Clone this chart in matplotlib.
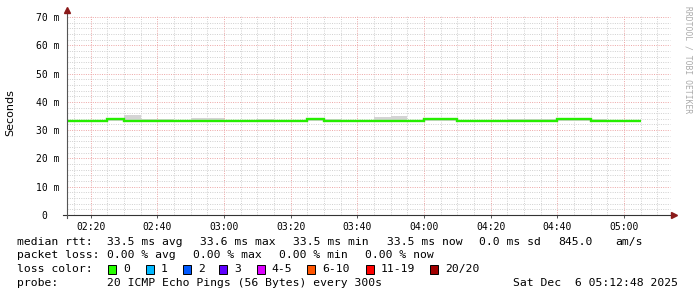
import matplotlib
matplotlib.use("Agg")
import matplotlib.pyplot as plt
from matplotlib.patches import Rectangle

W, H = 697, 297

# time axis in minutes after midnight, 5-minute steps
step_edges = [130 + 5 * i for i in range(36)]
median_ms = [33.4, 33.4, 33.4, 33.8, 33.4, 33.4, 33.4, 33.4, 33.4, 33.4,
             33.4, 33.4, 33.4, 33.4, 33.4, 33.8, 33.4, 33.4, 33.4, 33.4,
             33.4, 33.4, 33.8, 33.8, 33.4, 33.4, 33.4, 33.4, 33.4, 33.4,
             33.8, 33.8, 33.4, 33.4, 33.4]
smoke_hi_ms = [33.5, 33.5, 33.5, 34.2, 35.3, 34.1, 34.1, 33.5, 34.4, 34.4,
               33.5, 33.5, 34.1, 33.5, 33.5, 34.1, 34.1, 33.5, 33.5, 34.5,
               35.0, 33.5, 34.1, 34.1, 33.5, 33.5, 33.5, 34.1, 34.1, 34.1,
               34.1, 34.1, 34.1, 33.5, 33.5]
smoke_lo_ms = [33.1] * 35

t_start, t_end = 132.8, 312.8
major_ticks = [140, 160, 180, 200, 220, 240, 260, 280, 300]
major_labels = ["02:20", "02:40", "03:00", "03:20", "03:40", "04:00", "04:20", "04:40", "05:00"]
y_ticks = [0, 10, 20, 30, 40, 50, 60, 70]
y_labels = ["0  ", "10 m", "20 m", "30 m", "40 m", "50 m", "60 m", "70 m"]

loss_labels = ["0", "1", "2", "3", "4-5", "6-10", "11-19", "20/20"]
loss_colors = ["#26ff00", "#00b8ff", "#0059ff", "#5e00ff", "#dd00ff", "#ff5500", "#ff0000", "#a10000"]

mono = "DejaVu Sans Mono"

def fx(px):
    return px / W

def fy(py):
    return 1 - py / H

fig = plt.figure(figsize=(W / 100, H / 100), dpi=100)
left, right, top, bottom = 66.7, 666.7, 15, 215
ax = fig.add_axes([fx(left), fy(bottom), (right - left) / W, (bottom - top) / H])

# smoke and median
ax.stairs(smoke_hi_ms, step_edges, baseline=smoke_lo_ms, fill=True, color="#d4d4d4", lw=0, zorder=2)
ax.stairs(median_ms, step_edges, baseline=None, color="#26ee00", lw=1.7, zorder=3)

ax.set_xlim(t_start, t_end)
ax.set_ylim(0, 70.7)

# grids, extended slightly past the right edge like rrdtool
grid_dash = (0, (1, 1.3))
gx = [0, 1.005]
for m in range(135, 313, 5):
    if m not in major_ticks:
        ax.axvline(m, color="#d2d2d2", lw=0.72, ls=grid_dash, zorder=1)
for v in range(2, 71, 2):
    if v % 10:
        ax.axhline(v, *gx, color="#d2d2d2", lw=0.72, ls=grid_dash, zorder=1, clip_on=False)
for m in major_ticks:
    ax.axvline(m, color="#eeaaaa", lw=0.72, ls=grid_dash, zorder=1)
for v in y_ticks[1:]:
    ax.axhline(v, *gx, color="#eeaaaa", lw=0.72, ls=grid_dash, zorder=1, clip_on=False)

for s in ax.spines.values():
    s.set_visible(False)

ax.set_xticks(major_ticks)
ax.set_xticklabels(major_labels, fontsize=7, family=mono)
ax.set_yticks(y_ticks)
ax.set_yticklabels(y_labels, fontsize=7, family=mono)
ax.tick_params(axis="x", length=2, width=0.7, color="#555555", pad=3)
ax.tick_params(axis="y", length=0, pad=5)

# axis lines with arrows
ax.plot([-0.007, 1.01], [0, 0], color="#333333", lw=0.8, transform=ax.transAxes, clip_on=False, zorder=4)
ax.plot([0, 0], [-0.015, 1.02], color="#555555", lw=0.8, transform=ax.transAxes, clip_on=False, zorder=4)
ax.plot([1.012], [0], marker=">", ms=4, color="#8b1a1a", transform=ax.transAxes, clip_on=False, zorder=5)
ax.plot([0], [1.025], marker="^", ms=4, color="#8b1a1a", transform=ax.transAxes, clip_on=False, zorder=5)

fig.text(fx(10), fy(113), "Seconds", rotation=90, ha="center", va="center", fontsize=8, family="DejaVu Sans")
fig.text(fx(688), fy(6), "RRDTOOL / TOBI OETIKER", rotation=270, ha="center", va="top",
         fontsize=5.8, family=mono, color="#aaaaaa")

# legend
fs = 8.2
row = [241.7, 255.2, 269.0, 282.7]

def txt(x, y, s):
    fig.text(fx(x), fy(y), s, ha="left", va="center", fontsize=fs, family=mono)

txt(16.7, row[0], "median rtt:")
txt(107.3, row[0], "33.5 ms avg")
txt(200, row[0], "33.6 ms max")
txt(293.3, row[0], "33.5 ms min")
txt(386.7, row[0], "33.5 ms now")
txt(479, row[0], "0.0 ms sd")
txt(558, row[0], "845.0")
txt(615, row[0], "am/s")

txt(16.7, row[1], "packet loss:")
txt(107.3, row[1], "0.00 % avg")
txt(193.3, row[1], "0.00 % max")
txt(279.3, row[1], "0.00 % min")
txt(365, row[1], "0.00 % now")

txt(16.7, row[2], "loss color:")
box_x = [108.3, 145.7, 182.7, 219.3, 256.7, 307.3, 365.7, 430]
for bx, lab, col in zip(box_x, loss_labels, loss_colors):
    fig.patches.append(Rectangle((fx(bx), fy(row[2] + 4.5)), 8 / W, 9 / H, transform=fig.transFigure,
                                 facecolor=col, edgecolor="black", lw=0.7))
    txt(bx + 15, row[2], lab)

txt(16.7, row[3], "probe:")
txt(107.3, row[3], "20 ICMP Echo Pings (56 Bytes) every 300s")
txt(513, row[3], "Sat Dec  6 05:12:48 2025")

fig.savefig("out.png", dpi=100)
